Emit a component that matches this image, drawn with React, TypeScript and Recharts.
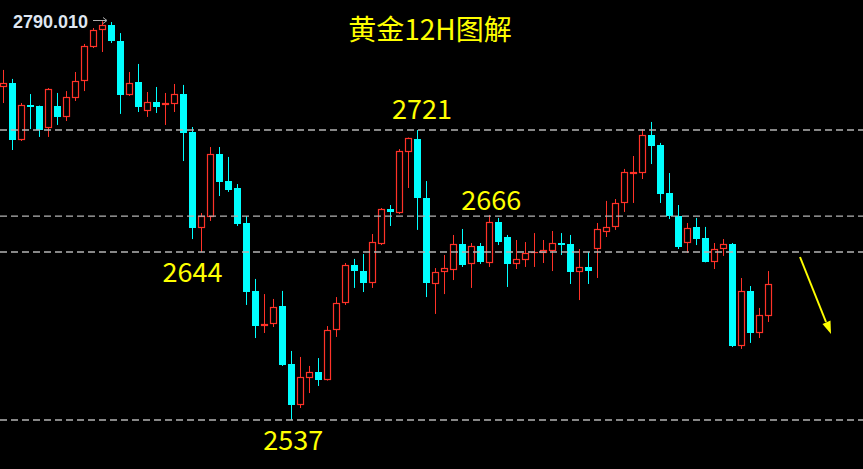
import React from 'react';
import { ComposedChart, Bar, XAxis, YAxis, ReferenceLine, ReferenceDot } from 'recharts';

// 12H gold candles (open, high, low, close)
const opens = [
  2748.3, 2750.8, 2714.7, 2736.9, 2736.2, 2722.3, 2736.2, 2729.3, 2741.3, 2752.1,
  2773.7, 2784.5, 2787.6, 2777.5, 2743.2, 2751.5, 2733.1, 2738.8, 2736.9, 2737.5,
  2743.8, 2719.7, 2658.8, 2665.8, 2705.8, 2688.6, 2684.2, 2662.0, 2618.9, 2596.6,
  2597.9, 2609.3, 2572.5, 2546.5, 2563.7, 2567.5, 2562.4, 2594.1, 2611.2, 2635.3,
  2631.5, 2623.9, 2648.7, 2670.9, 2668.3, 2707.0, 2715.3, 2677.9, 2623.3, 2630.9,
  2632.2, 2648.7, 2636.0, 2647.4, 2636.6, 2662.6, 2653.1, 2636.0, 2638.5, 2643.0,
  2643.0, 2644.2, 2649.3, 2648.7, 2630.9, 2634.1, 2645.5, 2656.3, 2659.5, 2674.7,
  2693.1, 2693.7, 2717.8, 2711.5, 2681.0, 2666.4, 2649.3, 2659.5, 2652.5, 2637.3,
  2645.5, 2648.7, 2584.0, 2618.9, 2592.2, 2603.0,
];
const highs = [
  2759.1, 2753.4, 2738.1, 2743.8, 2736.5, 2747.6, 2744.5, 2745.7, 2757.8, 2775.6,
  2785.7, 2790.0, 2789.5, 2782.5, 2757.8, 2762.9, 2745.1, 2748.3, 2744.5, 2750.2,
  2749.6, 2722.9, 2668.3, 2710.2, 2710.2, 2703.9, 2686.7, 2666.4, 2626.5, 2616.9,
  2613.8, 2618.9, 2580.8, 2577.0, 2571.3, 2576.3, 2596.6, 2615.0, 2636.6, 2639.2,
  2642.3, 2655.0, 2671.5, 2673.4, 2708.9, 2716.2, 2721.0, 2688.6, 2633.4, 2641.7,
  2654.4, 2658.2, 2649.3, 2649.3, 2667.1, 2665.2, 2654.4, 2651.2, 2649.9, 2655.6,
  2651.2, 2656.9, 2655.6, 2654.4, 2645.5, 2643.6, 2662.0, 2676.0, 2677.2, 2696.3,
  2704.5, 2721.6, 2726.1, 2712.8, 2693.7, 2673.4, 2662.0, 2665.2, 2659.5, 2649.3,
  2651.8, 2649.3, 2627.1, 2622.0, 2608.1, 2631.5,
];
const lows = [
  2738.1, 2708.3, 2714.0, 2721.6, 2716.6, 2716.6, 2724.2, 2726.7, 2739.4, 2745.7,
  2773.0, 2770.5, 2776.2, 2731.2, 2742.6, 2732.4, 2729.3, 2731.8, 2724.2, 2732.4,
  2701.3, 2651.8, 2643.6, 2663.3, 2679.1, 2681.7, 2660.1, 2610.0, 2589.0, 2592.2,
  2596.0, 2571.3, 2537.0, 2544.6, 2554.1, 2558.6, 2562.0, 2589.7, 2610.0, 2620.8,
  2618.2, 2620.8, 2648.0, 2660.1, 2667.7, 2684.2, 2657.6, 2615.0, 2604.3, 2616.9,
  2625.8, 2634.1, 2620.8, 2636.0, 2634.1, 2648.0, 2621.4, 2632.8, 2634.1, 2634.1,
  2636.6, 2631.5, 2641.7, 2623.3, 2613.1, 2623.3, 2627.1, 2653.1, 2657.6, 2669.0,
  2674.7, 2689.9, 2699.4, 2674.7, 2664.5, 2645.5, 2643.0, 2648.0, 2637.0, 2632.8,
  2641.1, 2583.3, 2582.1, 2585.9, 2589.0, 2599.2,
];
const closes = [
  2750.8, 2714.7, 2736.9, 2735.6, 2721.0, 2747.0, 2729.3, 2741.9, 2752.1, 2774.3,
  2784.5, 2787.6, 2777.5, 2743.2, 2750.8, 2735.6, 2738.8, 2735.6, 2738.1, 2743.8,
  2719.1, 2658.8, 2666.4, 2705.8, 2688.0, 2682.9, 2661.4, 2618.2, 2596.6, 2597.9,
  2608.7, 2571.9, 2546.5, 2564.3, 2567.5, 2562.4, 2594.1, 2611.2, 2635.3, 2631.5,
  2623.9, 2649.9, 2670.9, 2669.0, 2707.7, 2715.9, 2677.9, 2623.9, 2630.9, 2633.4,
  2648.7, 2635.3, 2647.4, 2637.3, 2662.6, 2649.9, 2636.0, 2639.2, 2643.0, 2643.6,
  2644.9, 2649.3, 2648.0, 2630.9, 2634.1, 2631.5, 2658.2, 2659.5, 2674.7, 2694.4,
  2694.4, 2717.8, 2710.9, 2680.4, 2666.4, 2646.8, 2658.8, 2651.8, 2637.3, 2645.5,
  2648.7, 2584.0, 2618.9, 2592.2, 2603.6, 2623.3,
];

// key levels and their labels
const levels = [2721, 2666.4, 2643.6, 2537];
const levelLabels = [
  { text: '2721', i: 46.5, price: 2721, pos: 'top', offset: 11 },
  { text: '2666', i: 54.2, price: 2666.4, pos: 'top', offset: 6 },
  { text: '2644', i: 21, price: 2643.6, pos: 'bottom', offset: 11 },
  { text: '2537', i: 32.2, price: 2537, pos: 'bottom', offset: 11 },
];
const title = '黄金12H图解';
const topPrice = '2790.010';

const RED = '#ff3228';
const CYAN = '#00ffff';
const YELLOW = '#ffff00';
const FONT = '"Noto Sans CJK SC", "Noto Sans", sans-serif';

const data = opens.map((o, i) => ({ i, o, h: highs[i], l: lows[i], c: closes[i] }));

const Candle = (props: any) => {
  const { x, y, width, height, payload } = props;
  if (!payload) return null;
  const { o, h, l, c } = payload;
  const up = c >= o;
  const ratio = h - l > 0 ? height / (h - l) : 0;
  const cx = Math.round(x + width / 2 - 0.5) + 0.5;
  const yHigh = y;
  const yLow = y + height;
  const yTop = Math.round(y + (h - Math.max(o, c)) * ratio);
  let yBot = Math.round(y + (h - Math.min(o, c)) * ratio);
  if (yBot - yTop < 1) yBot = yTop + 1;
  if (up) {
    return (
      <g>
        <line x1={cx} x2={cx} y1={yHigh} y2={yTop} stroke={RED} strokeWidth={1} />
        <line x1={cx} x2={cx} y1={yBot} y2={yLow} stroke={RED} strokeWidth={1} />
        <rect x={cx - 3} y={yTop + 0.5} width={6} height={Math.max(yBot - yTop - 1, 0.01)} fill="#000" stroke={RED} strokeWidth={1.2} />
      </g>
    );
  }
  return (
    <g>
      <line x1={cx} x2={cx} y1={yHigh} y2={yLow} stroke={CYAN} strokeWidth={1} />
      <rect x={cx - 3.5} y={yTop} width={7} height={yBot - yTop} fill={CYAN} />
    </g>
  );
};

export default function App() {
  return (
    <div style={{ position: 'absolute', left: 0, top: 0, width: 863, height: 469, background: '#000', overflow: 'hidden' }}>
      <ComposedChart width={863} height={469} data={data} margin={{ top: 0, right: 0, bottom: 0, left: 0 }}>
        <XAxis type="number" dataKey="i" domain={[-0.3889, 95.5]} hide allowDataOverflow />
        <YAxis type="number" domain={[2505.91, 2803.48]} hide allowDataOverflow />
        {levels.map((v) => (
          <ReferenceLine key={v} y={v} stroke="#b4b4b4" strokeWidth={1.3} strokeDasharray="7 4" />
        ))}
        <Bar dataKey={(d: any) => [d.l, d.h]} barSize={7} shape={Candle} isAnimationActive={false} />
        {levelLabels.map((lb) => (
          <ReferenceDot
            key={lb.text}
            x={lb.i}
            y={lb.price}
            r={0}
            stroke="none"
            fill="none"
            label={{ value: lb.text, position: lb.pos as any, offset: lb.offset, fill: YELLOW, fontSize: 27, fontFamily: FONT }}
          />
        ))}
      </ComposedChart>
      <svg width={863} height={469} style={{ position: 'absolute', left: 0, top: 0, pointerEvents: 'none' }}>
        <text x={430} y={40} textAnchor="middle" fill={YELLOW} fontSize={28} fontFamily={FONT}>{title}</text>
        <text x={13} y={28} fill="#dfe6f0" fontSize={18} fontWeight="bold" fontFamily='"Liberation Sans", Arial, sans-serif'>{topPrice}</text>
        <line x1={93} y1={20.5} x2={106} y2={20.5} stroke="#b0b0b0" strokeWidth={1} />
        <path d="M103,17.5 L107,20.5 L103,23.5" fill="none" stroke="#b0b0b0" strokeWidth={1} />
        <line x1={800} y1={257} x2={826} y2={322} stroke={YELLOW} strokeWidth={2} />
        <polygon points="831,334 830.5,320.5 822.5,324" fill={YELLOW} />
      </svg>
    </div>
  );
}
